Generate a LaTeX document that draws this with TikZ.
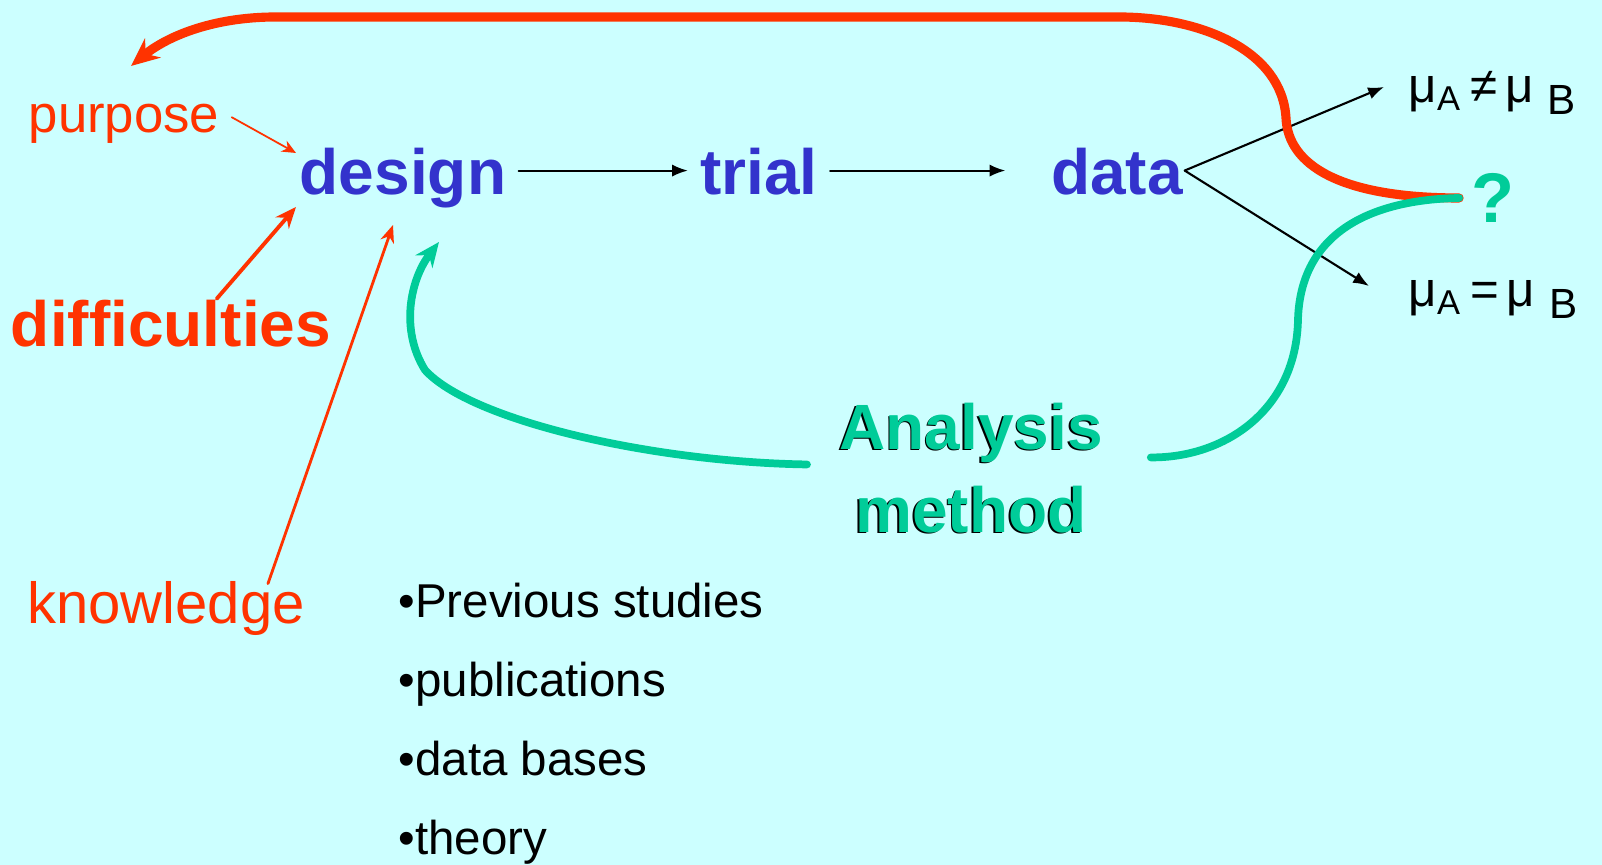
\documentclass[tikz,border=0pt]{standalone}
\usepackage{fontspec}
\setmainfont{Liberation Sans}
\usetikzlibrary{arrows.meta}
\definecolor{bgcyan}{RGB}{204,255,255}
\definecolor{stepred}{RGB}{255,51,0}
\definecolor{stepblue}{RGB}{51,51,204}
\definecolor{stepgreen}{RGB}{0,204,153}
\newcommand\lowB{\raisebox{-0.45ex}{\fontsize{12}{14}\selectfont B}}
\tikzset{
  stage/.style={text=stepblue,anchor=base,font=\bfseries\fontsize{18.2}{22}\selectfont},
  cause/.style={text=stepred,anchor=base},
  method/.style={text=stepgreen,align=center,inner sep=9pt,font=\bfseries\fontsize{18.2}{23.6}\selectfont},
  outcome/.style={anchor=base west,inner sep=0pt,font=\fontsize{14}{17}\selectfont},
  source/.style={anchor=base west,inner sep=0pt,font=\fontsize{13.5}{16}\selectfont},
  flow/.style={line width=0.6pt,-{Latex[length=4.5pt,width=3.5pt]}},
  loopred/.style={draw=stepred,line width=2.6pt,-{Stealth[length=8pt,width=7pt]}},
  loopgreen/.style={draw=stepgreen,line width=2.2pt},
}
\begin{document}
\begin{tikzpicture}[x=0.01cm,y=-0.01cm,line cap=round,line join=round]
  \fill[bgcyan] (0,0) rectangle (1602,865);
  \useasboundingbox (0,0) rectangle (1602,865);
  % chain
  \node[stage] (design) at (403,195) {design};
  \node[stage] (trial) at (759,195) {trial};
  \node[stage] (data) at (1117,195) {data};
  \node[outcome] (neq) at (1408,103) {μ\textsubscript{A}\,≠\,μ\;\lowB};
  \node[outcome] (eq) at (1408,307) {μ\textsubscript{A}\,=\,μ\;\lowB};
  \node[text=stepgreen,font=\bfseries\fontsize{20}{24}\selectfont] (q) at (1493,198) {?};
  % inputs
  \node[cause,font=\fontsize{15}{18}\selectfont] (purpose) at (124,133) {purpose};
  \node[cause,font=\bfseries\fontsize{18.2}{22}\selectfont] (diff) at (171,347) {difficulties};
  \node[cause,font=\fontsize{16.5}{20}\selectfont] (know) at (166,624) {knowledge};
  \node[method,text=black] (amshadow) at (969.5,469.5) {Analysis\\method};
  \node[method] (am) at (971,468) {Analysis\\method};
  \foreach \txt [count=\i] in {Previous studies,publications,data bases,theory}
    \node[source] (src\i) at (398,539+79*\i) {•\txt};
  % arrow ends
  \coordinate (split) at ([xshift=-3pt,yshift=4.3pt]data.mid east);
  \coordinate (neqtip) at (1384,87);
  \coordinate (eqtip) at (1369,286);
  \coordinate (tipA) at (296,153);
  \coordinate (tipB) at (296,207);
  \coordinate (tipC) at (393,225);
  \coordinate (tipD) at (439,242);
  \coordinate (back) at (131,66);

  \draw[flow] ([yshift=4.3pt]design.mid east) -- ([yshift=4.3pt]trial.mid west);
  \draw[flow,shorten >=9.5pt] ([yshift=4.3pt]trial.mid east) -- ([yshift=4.3pt]data.mid west);
  \draw[flow] (split) -- (neqtip);
  \draw[flow] (split) -- (eqtip);

  \draw[stepred,line width=0.5pt,-{Stealth[length=4pt,width=3.5pt]}] ([yshift=2pt]purpose.east) -- (tipA);
  \draw[stepred,line width=1.1pt,-{Stealth[length=6pt,width=5pt]}] ([xshift=13pt,yshift=-3pt]diff.north) -- (tipB);
  \draw[stepred,line width=0.8pt,-{Stealth[length=5pt,width=4pt]}] ([xshift=29pt,yshift=-4pt]know.north) -- (tipC);

  % feedback loops
  \draw[loopred] (q.west) .. controls (1340,198) and (1288,165) .. (1286,118)
    .. controls (1282,50) and (1200,17) .. (1119,17) -- (276,17)
    .. controls (210,17) and (165,38) .. (back);
  \draw[loopgreen] (q.west) .. controls (1360,200) and (1300,240) .. (1298,320)
    .. controls (1296,410) and (1225,458) .. ([xshift=4.5pt,yshift=3pt]am.east);
  \draw[loopgreen,-{Stealth[length=7pt,width=6pt]}] ([yshift=1pt]am.west)
    .. controls (650,462) and (470,420) .. (425,370)
    .. controls (400,330) and (410,280) .. (tipD);
\end{tikzpicture}
\end{document}
